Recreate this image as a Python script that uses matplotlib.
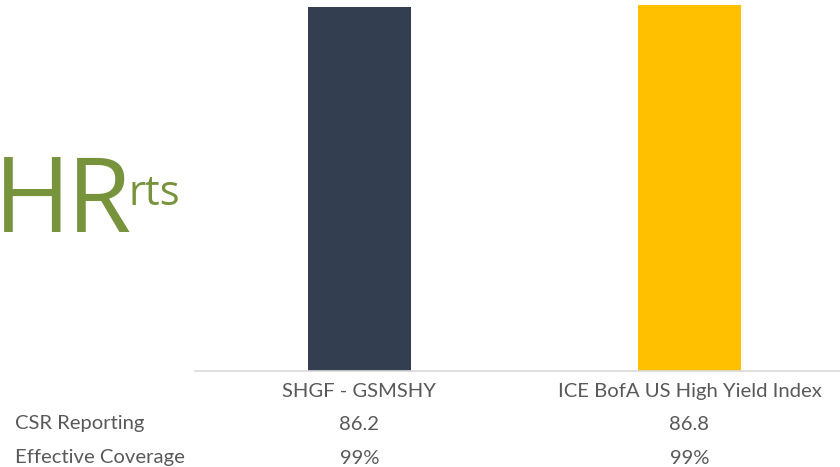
import matplotlib.pyplot as plt

categories = ["SHGF - GSMSHY", "ICE BofA US High Yield Index"]
csr_reporting = [86.2, 86.8]
effective_coverage = ["99%", "99%"]
row_labels = ["CSR Reporting", "Effective Coverage"]
bar_colors = ["#333F50", "#FFC000"]

plt.rcParams["font.family"] = ["Lato", "DejaVu Sans"]
grey = "#595959"
fs = 14.6

fig = plt.figure(figsize=(8.4, 4.67), dpi=100)
# axis runs past the right edge, as in the cropped original
ax = fig.add_axes([194.5 / 840, 96.5 / 467, 660 / 840, 370.5 / 467])

x = range(len(categories))
ax.bar(x, csr_reporting, width=0.315, color=bar_colors)
ax.set_xlim(-0.5, 1.5)
ax.set_ylim(0, 87.9)

for side in ["top", "right", "left"]:
    ax.spines[side].set_visible(False)
ax.spines["bottom"].set_color("#D9D9D9")
ax.spines["bottom"].set_linewidth(1.2)
ax.set_yticks([])
ax.set_xticks(list(x))
ax.set_xticklabels(categories, fontsize=fs, color=grey)
ax.tick_params(axis="x", length=0, pad=9)

# data table under the axis
trans = ax.get_xaxis_transform()
for i in x:
    ax.text(i, (370.5 - 424) / 370.5, f"{csr_reporting[i]:.1f}", transform=trans,
            ha="center", va="center", fontsize=fs, color=grey)
    ax.text(i, (370.5 - 458) / 370.5, effective_coverage[i], transform=trans,
            ha="center", va="center", fontsize=fs, color=grey)
fig.text(15 / 840, 1 - 424 / 467, row_labels[0], ha="left", va="center",
         fontsize=fs, color=grey)
fig.text(15 / 840, 1 - 458 / 467, row_labels[1], ha="left", va="center",
         fontsize=fs, color=grey)

# big green title fragment on the left
green = "#77933C"
big = dict(ha="left", va="baseline", fontsize=75, color=green,
           family=["Open Sans", "DejaVu Sans"], fontweight="medium")
fig.text(-6 / 840, 1 - 232 / 467, "H", **big)
fig.text(67 / 840, 1 - 232 / 467, "R", **big)
fig.text(129 / 840, 1 - 205 / 467, "rts", ha="left", va="baseline",
         fontsize=30, color=green, family=["Open Sans", "DejaVu Sans"])

fig.savefig("out.png", dpi=100)
